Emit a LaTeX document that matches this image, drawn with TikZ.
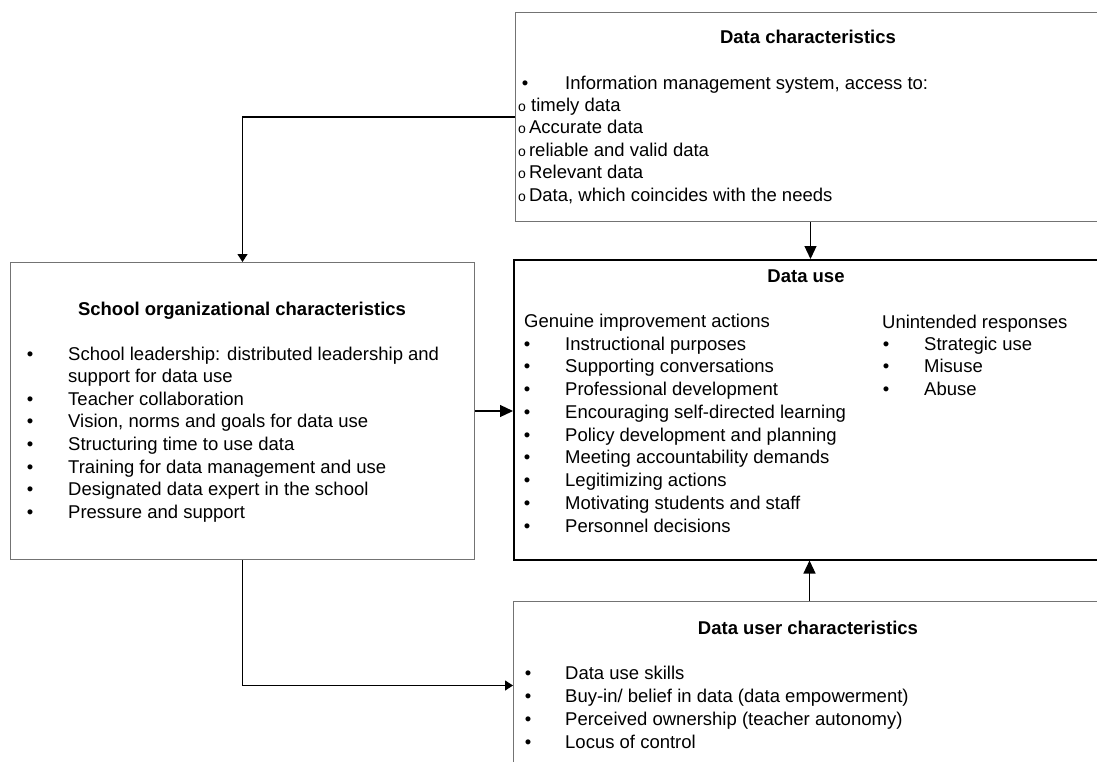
\documentclass[tikz,border=0pt]{standalone}
\usepackage{fontspec}
\setmainfont{Liberation Sans}
\usetikzlibrary{arrows.meta}
\definecolor{boxgray}{gray}{0.45}
\newcommand{\circmark}{{\fontsize{14}{14}\selectfont o}}
\begin{document}
\begin{tikzpicture}[x=1pt,y=-1pt,
  box/.style={draw=boxgray, line width=1pt, inner sep=0pt, anchor=north west, rectangle},
  txt/.style={anchor=base west, inner sep=0pt, font=\fontsize{18.5}{22.6}\selectfont},
  bul/.style={anchor=base, inner sep=0pt, font=\fontsize{18.5}{22.6}\selectfont},
  ttl/.style={anchor=base, inner sep=0pt, font=\fontsize{18.5}{22.6}\selectfont\bfseries},
  conn/.style={line width=1.2pt, -{Triangle[length=13pt,width=12pt]}},
  sconn/.style={line width=1.2pt, -{Triangle[length=8pt,width=10pt]}}
]
\clip (0,0) rectangle (1097,761);
\fill[white] (0,0) rectangle (1097,761);

% boxes
\node[box, minimum width=590pt, minimum height=209pt] (dc) at (515,12) {};
\node[box, draw=black, line width=1.5pt, minimum width=592pt, minimum height=300pt] (du) at (513,259) {};
\node[box, minimum width=464pt, minimum height=297pt] (soc) at (10,262) {};
\node[box, minimum width=592pt, minimum height=168pt] (duc) at (513,601) {};

% Data characteristics
\node[ttl] (dct) at (808,43) {Data characteristics};
\node[bul] (dcb) at (525,89) {\textbullet};
\node[txt] (dc0) at (565,89) {Information management system, access to:};
\foreach \t [count=\i] in {\circmark{} timely data,\circmark\,Accurate data,\circmark\,reliable and valid data,\circmark\,Relevant data,{\circmark\,Data, which coincides with the needs}}
  \node[txt] (dc\i) at (518,{111+(\i-1)*22.5}) {\t};

% School organizational characteristics
\node[ttl] (soct) at (242,315) {School organizational characteristics};
\foreach \t/\b [count=\i] in {School leadership: distributed leadership and/1,support for data use/0,Teacher collaboration/1,{Vision, norms and goals for data use}/1,Structuring time to use data/1,Training for data management and use/1,Designated data expert in the school/1,Pressure and support/1}
{
  \node[txt] (soc\i) at (68,{360+(\i-1)*22.6}) {\t};
  \ifnum\b=1 \node[bul] (socb\i) at (30,{360+(\i-1)*22.6}) {\textbullet};\fi
}

% Data use
\node[ttl] (dut) at (806,282) {Data use};
\node[txt] (dug) at (524,327) {Genuine improvement actions};
\foreach \t [count=\i] in {Instructional purposes,Supporting conversations,Professional development,Encouraging self-directed learning,Policy development and planning,Meeting accountability demands,Legitimizing actions,Motivating students and staff,Personnel decisions}
{
  \node[bul] (dugb\i) at (527,{350+(\i-1)*22.75}) {\textbullet};
  \node[txt] (dug\i) at (565,{350+(\i-1)*22.75}) {\t};
}
\node[txt] (duu) at (882,328) {Unintended responses};
\foreach \t [count=\i] in {Strategic use,Misuse,Abuse}
{
  \node[bul] (duub\i) at (886,{350+(\i-1)*22.75}) {\textbullet};
  \node[txt] (duu\i) at (924,{350+(\i-1)*22.75}) {\t};
}

% Data user characteristics
\node[ttl] (duct) at (808,634) {Data user characteristics};
\foreach \t [count=\i] in {Data use skills,Buy-in/ belief in data (data empowerment),Perceived ownership (teacher autonomy),Locus of control}
{
  \node[bul] (ducb\i) at (528,{679+(\i-1)*23}) {\textbullet};
  \node[txt] (duc\i) at (565,{679+(\i-1)*23}) {\t};
}

% connectors
\draw[sconn] (dc.west) -| (soc.north);
\draw[conn] (dc.south) -- (dc.south |- du.north);
\draw[conn] (soc.east) -- (soc.east -| du.west);
\draw[sconn] (soc.south) |- (duc.west);
\draw[conn] (duc.north) -- (duc.north |- du.south);
\end{tikzpicture}
\end{document}
